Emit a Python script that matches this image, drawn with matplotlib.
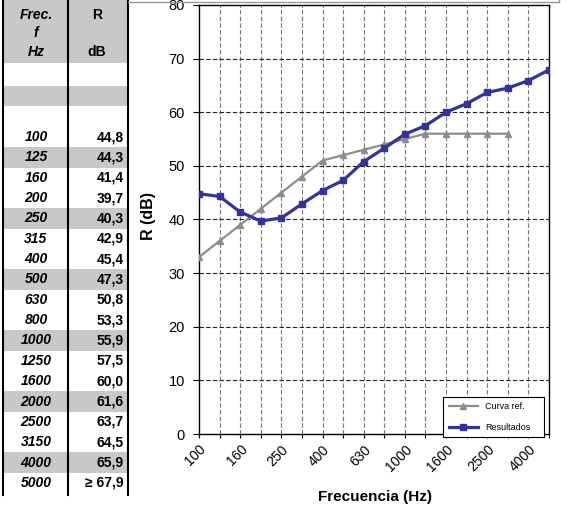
import numpy as np
import matplotlib
matplotlib.use("Agg")
import matplotlib.pyplot as plt
from matplotlib.patches import Rectangle
from matplotlib.lines import Line2D

plt.rcParams['font.family'] = ['Liberation Sans', 'DejaVu Sans']

# data
freqs = ["100", "125", "160", "200", "250", "315", "400", "500", "630",
         "800", "1000", "1250", "1600", "2000", "2500", "3150", "4000", "5000"]
resultados = [44.8, 44.3, 41.4, 39.7, 40.3, 42.9, 45.4, 47.3, 50.8,
              53.3, 55.9, 57.5, 60.0, 61.6, 63.7, 64.5, 65.9, 67.9]
curva_ref = [33, 36, 39, 42, 45, 48, 51, 52, 53, 54, 55, 56, 56, 56, 56, 56]
table_r = ["44,8", "44,3", "41,4", "39,7", "40,3", "42,9", "45,4", "47,3", "50,8",
           "53,3", "55,9", "57,5", "60,0", "61,6", "63,7", "64,5", "65,9", "\u2265 67,9"]
shaded = ["63", "125", "250", "500", "1000", "2000", "4000"]
xtick_labels = ["100", "160", "250", "400", "630", "1000", "1600", "2500", "4000"]

W, H = 576, 509
fig = plt.figure(figsize=(W / 100, H / 100), dpi=100)


def px(x, y):
    return x / W, 1 - y / H


# ---- table on the left ----
grey = "#c8c8c8"
row_h = 20.35
y0 = 137.0
all_rows = ["50", "63", "80"] + freqs
fig.patches.append(Rectangle(px(3, 63), 125 / W, 63 / H, transform=fig.transFigure,
                             facecolor=grey, edgecolor="none", zorder=0))
for k, f in enumerate(all_rows):
    yc = y0 + (k - 3) * row_h
    if f in shaded:
        fig.patches.append(Rectangle(px(3, yc + row_h / 2), 125 / W, row_h / H,
                                     transform=fig.transFigure, facecolor=grey,
                                     edgecolor="none", zorder=0))

for xl in (3, 68, 128):
    fig.add_artist(Line2D([xl / W, xl / W], [1, 1 - 495 / H], color="black", lw=1.5))

tsize = 10
hdr = dict(fontsize=tsize, fontweight="bold", ha="center", va="center")
fig.text(*px(36, 15), "Frec.", style="italic", **hdr)
fig.text(*px(36, 33), "f", style="italic", **hdr)
fig.text(*px(36, 52), "Hz", style="italic", **hdr)
fig.text(*px(97, 15), "R", **hdr)
fig.text(*px(97, 52), "dB", **hdr)

for i, (f, r) in enumerate(zip(freqs, table_r)):
    yc = y0 + i * row_h
    fig.text(*px(36, yc), f, fontsize=tsize, fontweight="bold", style="italic",
             ha="center", va="center")
    fig.text(*px(124, yc), r, fontsize=tsize, fontweight="bold",
             ha="right", va="center")

# frame line at top of chart area
fig.add_artist(Line2D([128 / W, 559 / W], [1 - 2 / H, 1 - 2 / H], color="#999999", lw=1))
fig.add_artist(Line2D([559 / W, 559 / W], [1 - 2 / H, 1], color="#999999", lw=1))

# ---- chart ----
left, right, top, bottom = 199, 549, 5, 434
ax = fig.add_axes([left / W, 1 - bottom / H, (right - left) / W, (bottom - top) / H])
x = np.arange(len(freqs))

ax.plot(x[:len(curva_ref)], curva_ref, color="#8c8c8c", lw=1.6, marker="^",
        markersize=5, label="Curva ref.", zorder=3)
ax.plot(x, resultados, color="#333399", lw=2.3, marker="s", markersize=5,
        label="Resultados", zorder=4)

ax.set_xlim(0, len(freqs) - 1)
ax.set_ylim(0, 80)
ax.set_yticks(np.arange(0, 81, 10))
ax.set_xticks(x)
ax.set_xticklabels([f if f in xtick_labels else "" for f in freqs],
                   rotation=45, ha="right", rotation_mode="anchor", fontsize=10)
ax.tick_params(axis="y", labelsize=10.5, length=4, pad=6)
ax.tick_params(axis="x", length=3, pad=3)

for v in range(1, len(freqs) - 1):
    ax.axvline(v, color="#777777", lw=0.8, ls=(0, (4, 2)), zorder=1)
for v in range(10, 80, 10):
    ax.axhline(v, color="#222222", lw=0.8, ls=(0, (4, 2)), zorder=1)

for s in ax.spines.values():
    s.set_color("black")
    s.set_linewidth(1)

leg = ax.legend(loc="center", bbox_to_anchor=(0.685, -0.012, 0.315, 0.103),
                mode="expand", fontsize=6.5, frameon=True, fancybox=False,
                edgecolor="black", framealpha=1, handlelength=3.2,
                labelspacing=1.3, borderpad=0.6)
leg.get_frame().set_linewidth(0.8)
leg.set_zorder(10)

fig.text(*px(148, 216), "R (dB)", rotation=90, fontsize=11.5, fontweight="bold",
         ha="center", va="center")
fig.text(*px(375, 497), "Frecuencia (Hz)", fontsize=11, fontweight="bold",
         ha="center", va="center")

fig.savefig("out.png", dpi=100)
